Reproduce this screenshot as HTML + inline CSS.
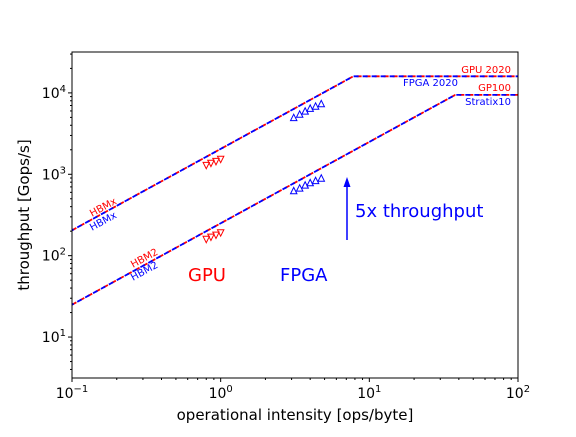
<!DOCTYPE html>
<html><head><meta charset="utf-8"><style>
body{margin:0;background:#fff}
svg text{font-family:"DejaVu Sans","Liberation Sans",sans-serif}
</style></head><body>
<svg id="c" width="576" height="432" viewBox="0 0 576 432">
<defs><clipPath id="clip"><rect x="72" y="52" width="446" height="326"/></clipPath></defs>
<rect x="0" y="0" width="576" height="432" fill="#fff"/>
<g id="plot" clip-path="url(#clip)"></g>
<rect x="72" y="52" width="446" height="326" fill="none" stroke="#000" stroke-width="1"/>
<g id="ax"></g>
<text x="295" y="420" text-anchor="middle" font-size="15">operational intensity [ops/byte]</text>
<text transform="translate(29,215) rotate(-90)" text-anchor="middle" font-size="15">throughput [Gops/s]</text>
<text x="188" y="281" font-size="18" fill="#f00">GPU</text>
<text x="280" y="281" font-size="18" fill="#00f">FPGA</text>
<text x="355" y="217" font-size="18" fill="#00f">5x throughput</text>
<line x1="347" y1="240" x2="347" y2="184" stroke="#00f" stroke-width="1.5"/>
<polygon points="347,177 343.5,187 350.5,187" fill="#00f"/>
<text x="511" y="73" font-size="10" fill="#f00" text-anchor="end">GPU 2020</text>
<text x="403" y="86" font-size="10" fill="#00f">FPGA 2020</text>
<text x="511" y="91" font-size="10" fill="#f00" text-anchor="end">GP100</text>
<text x="511" y="105" font-size="10" fill="#00f" text-anchor="end">Stratix10</text>
<text transform="translate(92,217) rotate(-28.7)" font-size="10" fill="#f00">HBMx</text>
<text transform="translate(92,231) rotate(-28.7)" font-size="10" fill="#00f">HBMx</text>
<text transform="translate(133,268) rotate(-28.7)" font-size="10" fill="#f00">HBM2</text>
<text transform="translate(133,281) rotate(-28.7)" font-size="10" fill="#00f">HBM2</text>
</svg>
<script>
const rooflineBandwidth=[2050,250];
const rooflinePeak=[16000,9450];
const gpuX=[0.8,0.86,0.93,1.0];
const gpuUpper=[1280,1360,1430,1520];
const gpuLower=[158,168,178,190];
const fpgaX=[3.1,3.4,3.7,4.0,4.35,4.75];
const fpgaUpper=[5000,5500,6000,6500,6900,7400];
const fpgaLower=[630,680,740,790,840,900];
const xTicks=[0.1,1,10,100];
const xTickLabels=["−1","0","1","2"];
const yTicks=[10,100,1000,10000];
const yTickLabels=["1","2","3","4"];

const X0=72,X1=518,Y0=378,Y1=52,XL=-1,XH=2,YL=Math.log10(3.14),YH=Math.log10(31800);
const sx=v=>X0+(Math.log10(v)-XL)/(XH-XL)*(X1-X0);
const sy=v=>Y0-(Math.log10(v)-YL)/(YH-YL)*(Y0-Y1);
const NS="http://www.w3.org/2000/svg";
const plot=document.getElementById('plot'),ax=document.getElementById('ax');
function mk(t,a,p){const e=document.createElementNS(NS,t);for(const k in a)e.setAttribute(k,a[k]);p.appendChild(e);return e;}
rooflineBandwidth.forEach((bw,i)=>{
  const ridge=rooflinePeak[i]/bw;
  const pts=[[0.1,bw*0.1],[ridge,rooflinePeak[i]],[100,rooflinePeak[i]]].map(p=>sx(p[0]).toFixed(1)+','+sy(p[1]).toFixed(1)).join(' ');
  const r=mk('polyline',{points:pts,fill:'none',stroke:'#f00','stroke-width':1.8,'stroke-dasharray':'5,4'},plot);
  
  
  const b=mk('polyline',{points:pts,fill:'none',stroke:'#00f','stroke-width':1.8,'stroke-dasharray':'5,4','stroke-dashoffset':'3'},plot);
  
  
});
function tri(x,y,down,col,name){
  const s=3.2;const px=sx(x),py=sy(y);
  const pts=down?[[px-s,py-s],[px+s,py-s],[px,py+s]]:[[px-s,py+s],[px+s,py+s],[px,py-s]];
  const e=mk('polygon',{points:pts.map(p=>p.join(',')).join(' '),fill:'none',stroke:col,'stroke-width':1},plot);
  
  
}
gpuX.forEach((x,i)=>{tri(x,gpuUpper[i],true,'#f00','gpu-hbmx-point');tri(x,gpuLower[i],true,'#f00','gpu-hbm2-point');});
fpgaX.forEach((x,i)=>{tri(x,fpgaUpper[i],false,'#00f','fpga-hbmx-point');tri(x,fpgaLower[i],false,'#00f','fpga-hbm2-point');});
xTicks.forEach((v,i)=>{
  const x=sx(v);
  const l=mk('line',{x1:x,y1:Y0,x2:x,y2:Y0+4,stroke:'#000'},ax);
  
  
  const t=mk('text',{x:x,y:Y0+20,'text-anchor':'middle','font-size':14},ax);
  
  
  t.innerHTML='10<tspan dy="-6" font-size="10">'+xTickLabels[i]+'</tspan>';
  if(i<xTicks.length-1)for(let m=2;m<10;m++){const mx=sx(v*m);const ml=mk('line',{x1:mx,y1:Y0,x2:mx,y2:Y0+2,stroke:'#000'},ax);}
});
yTicks.forEach((v,i)=>{
  const y=sy(v);
  const l=mk('line',{x1:X0-4,y1:y,x2:X0,y2:y,stroke:'#000'},ax);
  
  
  const t=mk('text',{x:X0-6,y:y+5,'text-anchor':'end','font-size':14},ax);
  
  
  t.innerHTML='10<tspan dy="-6" font-size="10">'+yTickLabels[i]+'</tspan>';
});
for(let d=0;d<5;d++)for(let m=2;m<10;m++){const v=Math.pow(10,d)*m;const y=sy(v);if(y<Y1||y>Y0)continue;const ml=mk('line',{x1:X0-2,y1:y,x2:X0,y2:y,stroke:'#000'},ax);}
</script>
</body></html>
